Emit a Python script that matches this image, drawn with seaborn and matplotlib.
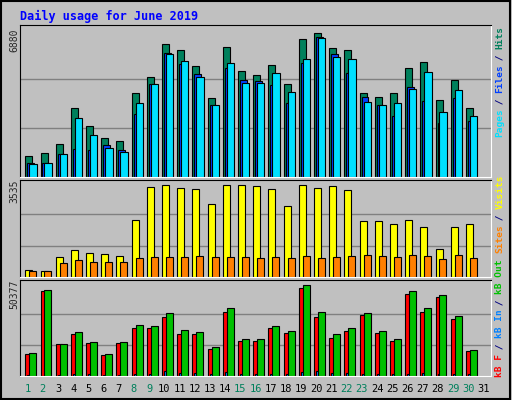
import matplotlib
matplotlib.use("Agg")
import matplotlib.pyplot as plt
import numpy as np
import seaborn as sns

sns.set_style("white")
plt.rcParams["font.family"] = ["DejaVu Sans Mono"]

days = [str(d) for d in range(1, 32)]
weekend = {1, 2, 8, 9, 15, 16, 22, 23, 29, 30}

hits = [994, 1131, 1544, 3241, 2370, 1819, 1682, 3929, 4663, 6222, 5947, 5213, 3700, 6085, 4938,
        4755, 5259, 4342, 6452, 6727, 6039, 5947, 3929, 3746, 3929, 5122, 5397, 3608, 4525, 3241]
files = [673, 642, 1085, 1315, 1284, 1498, 1269, 2935, 4357, 5810, 5274, 4816, 3379, 5091, 4525,
         4480, 4311, 3486, 5351, 6544, 5764, 4862, 3761, 3348, 2844, 4204, 3578, 2523, 3715, 2614]
pages = [596, 673, 1085, 2783, 1957, 1376, 1177, 3486, 4357, 5764, 5443, 4663, 3379, 5351, 4388,
         4388, 4847, 3975, 5535, 6498, 5626, 5535, 3517, 3379, 3471, 4113, 4893, 3058, 4067, 2874]
visits = [269, 231, 769, 1038, 922, 884, 807, 2190, 3458, 3535, 3420, 3382, 2805, 3535, 3535,
          3497, 3382, 2728, 3535, 3420, 3497, 3343, 2152, 2152, 2037, 2190, 1921, 1076, 1921, 2037]
sites = [231, 231, 538, 653, 576, 576, 576, 730, 769, 769, 769, 807, 769, 769, 769,
         730, 769, 730, 807, 730, 769, 807, 845, 807, 769, 845, 807, 692, 845, 730]
kb_f = [12177, 47048, 17712, 23247, 18266, 11624, 18266, 26568, 26568, 32657, 23247, 23247, 14945, 35424, 19373,
        19373, 26568, 23801, 48708, 32657, 21033, 24908, 33764, 23801, 19373, 45387, 35424, 43727, 31550, 13838]
kb_in = [300, 200, 300, 900, 900, 700, 300, 1300, 1300, 2600, 1900, 1900, 1300, 2200, 1300,
         1300, 1300, 1300, 2200, 2600, 1900, 1900, 1300, 1300, 1300, 1300, 1900, 1300, 1300, 900]
kb_out = [12731, 47601, 17712, 24354, 18819, 12177, 18819, 28229, 27675, 34871, 25461, 24354, 16052, 37638, 20480,
          20480, 27675, 24908, 50377, 35424, 23247, 26568, 34871, 24908, 20480, 47048, 37638, 44834, 33210, 14391]

BG = "#C0C0C0"
W, H = 512, 400
fig = plt.figure(figsize=(W / 100, H / 100), dpi=100, facecolor=BG)
fig.patches.append(plt.Rectangle((0.002, 0.003), 0.995, 0.994, transform=fig.transFigure,
                                 fill=False, edgecolor="black", lw=1.5))


def px_axes(x0, y0, x1, y1):
    return fig.add_axes([x0 / W, 1 - y1 / H, (x1 - x0) / W, (y1 - y0) / H])


x = np.arange(len(hits))
panels = [
    (px_axes(20, 25, 491, 177), 6880 * 152 / 147,
     [(hits, 0.35, 0.46, "#00805C"), (files, 0.48, 0.44, "#0040FF"), (pages, 0.61, 0.48, "#00E0FF")]),
    (px_axes(20, 180, 491, 277), 3535 * 97 / 92,
     [(visits, 0.35, 0.46, "#FFFF00"), (sites, 0.61, 0.46, "#FF8000")]),
    (px_axes(20, 280, 491, 376), 50377 * 96 / 91,
     [(kb_f, 0.35, 0.44, "#FF0000"), (kb_in, 0.48, 0.2, "#0080FF"), (kb_out, 0.61, 0.46, "#00C000")]),
]
for ax, top, series in panels:
    ax.set_facecolor(BG)
    for frac in (1 / 3, 2 / 3):
        ax.axhline(top * frac * 0.97, color="#808080", lw=1, zorder=0)
    for vals, off, w, col in series:
        ax.bar(x + off, vals, width=w, align="edge", color=col, edgecolor="black", lw=0.8, zorder=2)
    ax.set_xlim(0, 31)
    ax.set_ylim(0, top)
    ax.set_xticks([])
    ax.set_yticks([])
    for s in ax.spines.values():
        s.set_color("white")
    ax.spines["left"].set_color("black")
    ax.spines["top"].set_color("black")

fig.text(20 / W, 1 - 16 / H, "Daily usage for June 2019", color="#0000FF", fontsize=8.5,
         fontweight="bold", va="center", ha="left")

for label, ytop in [("6880", 28), ("3535", 180), ("50377", 280)]:
    fig.text(14 / W, 1 - ytop / H, label, rotation=90, fontsize=7, va="top", ha="center")


def side_label(parts, ybottom):
    y = ybottom
    for txt, col in parts:
        fig.text(500 / W, 1 - y / H, txt, rotation=90, color=col, fontsize=6.8,
                 fontweight="bold", va="bottom", ha="center")
        y -= len(txt) * 5.5


side_label([("Pages", "#00E0FF"), (" / ", "#000080"), ("Files", "#0040FF"), (" / ", "#000080"),
            ("Hits", "#00805C")], 137)
side_label([("Sites", "#FF8000"), (" / ", "#000080"), ("Visits", "#FFFF00")], 253)
side_label([("kB F", "#FF0000"), (" / ", "#000080"), ("kB In", "#0080FF"), (" / ", "#000080"),
            ("kB Out", "#00C000")], 377)

ax0 = panels[2][0]
for i, d in enumerate(days):
    fig.text((20 + (i + 0.5) * 471 / 31) / W, 1 - 389 / H, d, fontsize=7.5, ha="center", va="center",
             color="#00805C" if int(d) in weekend else "black")

fig.savefig("out.png", dpi=100, facecolor=BG)
